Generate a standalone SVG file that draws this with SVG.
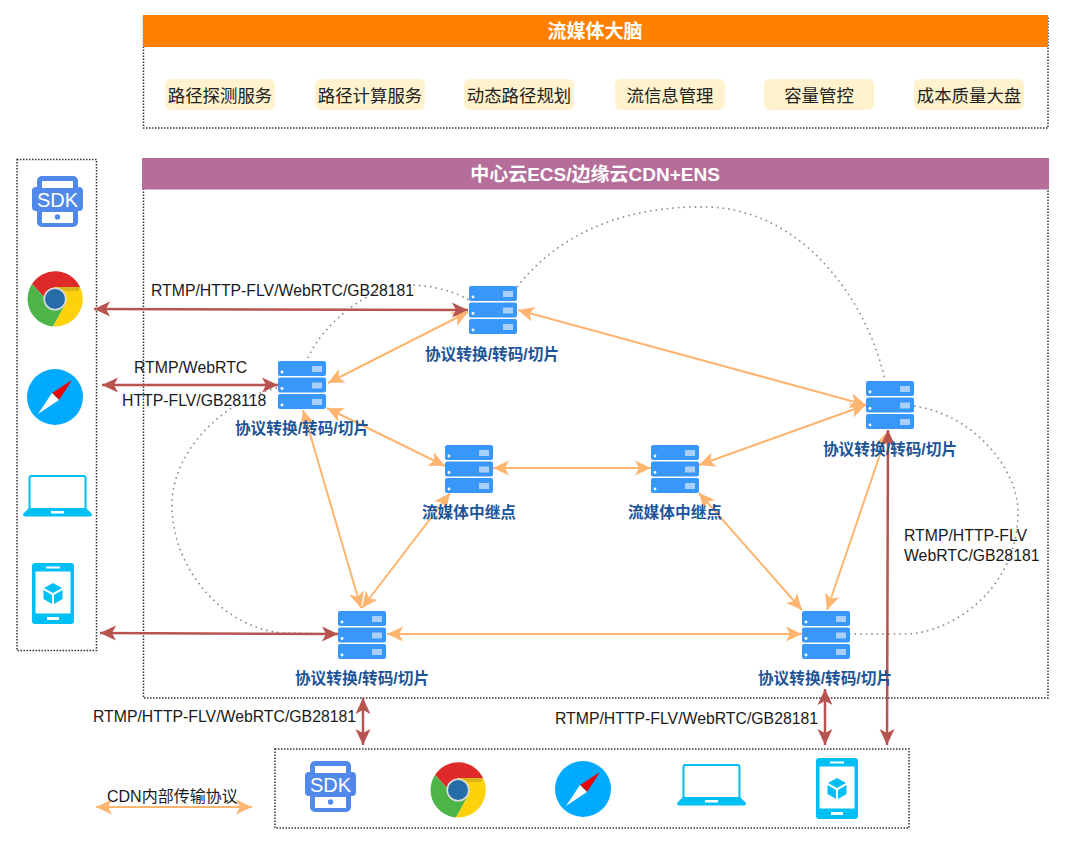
<svg xmlns="http://www.w3.org/2000/svg" width="1080" height="857" viewBox="0 0 1080 857">
<style>
text{font-family:"Liberation Sans","Noto Sans CJK SC",sans-serif}
.panel{fill:none;stroke:#333;stroke-width:1.5;stroke-dasharray:1.5 1.5}
.pill{fill:#fff2cc}
.pt{font-size:17.4px;fill:#222;text-anchor:middle}
.hd{font-size:19px;font-weight:bold;fill:#fff;text-anchor:middle}
.lb{font-size:15.7px;font-weight:bold;fill:#1c5497;text-anchor:middle}
.pr{font-size:15.8px;fill:#1a1a1a}
.sd{font-size:20px;fill:#fff;text-anchor:middle}
.o{fill:none;stroke:#ffb570;stroke-width:2;marker-start:url(#ao);marker-end:url(#ao)}
.r{fill:none;stroke:#b85450;stroke-width:2.5;marker-start:url(#ar);marker-end:url(#ar)}
.d{fill:none;stroke:#8a8a8a;stroke-width:1.6;stroke-dasharray:1.6 4}
</style>
<defs>
<marker id="ao" markerUnits="userSpaceOnUse" markerWidth="17" markerHeight="16" refX="16" refY="8" orient="auto-start-reverse"><path d="M16,8 L0,0.5 L4,8 L0,15.5Z" fill="#ffb570"/></marker>
<marker id="ar" markerUnits="userSpaceOnUse" markerWidth="17" markerHeight="16" refX="16" refY="8" orient="auto-start-reverse"><path d="M16,8 L0,0.5 L4,8 L0,15.5Z" fill="#b85450"/></marker>
<symbol id="srv" width="48" height="48" viewBox="0 0 48 48" overflow="visible">
<g fill="#3897fb"><rect width="48" height="15" rx="2"/><rect y="16.500" width="48" height="15" rx="2"/><rect y="33" width="48" height="15" rx="2"/></g>
<g fill="#fff"><circle cx="4" cy="11" r="1.400"/><circle cx="4" cy="27.500" r="1.400"/><circle cx="4" cy="44" r="1.400"/></g>
<g fill="#a9d0fb"><rect x="34" y="5" width="10" height="6"/><rect x="34" y="21.500" width="10" height="6"/><rect x="34" y="38" width="10" height="6"/></g>
</symbol>
<symbol id="sdk" width="52" height="52" viewBox="0 0 52 52" overflow="visible">
<rect x="5" y="0" width="41" height="51" rx="5" fill="#5089e9"/>
<rect x="0" y="11" width="51" height="24" rx="4" fill="#5089e9"/>
<rect x="10" y="5" width="31" height="7" fill="#fff"/>
<rect x="10" y="36" width="31" height="11" fill="#fff"/>
<circle cx="25.500" cy="41" r="2.700" fill="#5089e9"/>
</symbol>
<symbol id="chrome" width="56" height="56" viewBox="-28 -28 56 56" overflow="visible">
<path d="M-23,-15 A27.500,27.500 0 0 1 25,-12 L0,-12 L-11,-2Z" fill="#e02a2a"/>
<path d="M-23,-15 A27.500,27.500 0 0 0 -2,27.400 L10,6 L-11,-2Z" fill="#4db548"/>
<path d="M25,-12 A27.500,27.500 0 0 1 -2,27.400 L10,6 L0,-12Z" fill="#fdd20a"/>
<path d="M2,-12 L25,-12 L23,-8 L10,-8Z" fill="#d8b41a"/>
<circle r="11.600" fill="#d8dde0"/><circle r="10" fill="#266ca8"/>
</symbol>
<symbol id="safari" width="56" height="56" viewBox="-28 -28 56 56" overflow="visible">
<circle r="28" fill="#00aaff"/>
<path d="M17,-17 L-3,-4 L4,3Z" fill="#f00000"/><path d="M-17,17 L-3,-4 L4,3Z" fill="#fff"/>
</symbol>
<symbol id="laptop" width="69" height="42" viewBox="0 0 69 42" overflow="visible">
<rect x="6.500" y="1" width="56" height="35" rx="2" fill="#fff" stroke="#00bff5" stroke-width="2"/>
<path d="M6,33 L63,33 L69,39 Q69,41.500 67,41.500 L2,41.500 Q0,41.500 0,39Z" fill="#00bff5"/>
<rect x="28" y="36" width="13" height="2.500" fill="#fff"/>
</symbol>
<symbol id="tablet" width="42" height="61" viewBox="0 0 42 61" overflow="visible">
<rect width="42" height="61" rx="3" fill="#00bff5"/>
<rect x="3.500" y="8.500" width="35" height="42" fill="#fff"/>
<rect x="14" y="3.500" width="14" height="2" fill="#fff"/><rect x="15" y="54" width="12" height="3" fill="#fff"/>
<path d="M21,20 L30,25 L21,30 L12,25Z M11.500,27 L20,32 L20,41 L11.500,36Z M30.500,27 L22,32 L22,41 L30.500,36Z" fill="#00bff5"/>
</symbol>
</defs>
<rect width="1080" height="857" fill="#fff"/>

<g id="brain">
<rect class="panel" x="143.500" y="16" width="904.500" height="112"/>
<rect x="143" y="15" width="905" height="32" fill="#ff8000"/>
<text class="hd" x="595" y="38">流媒体大脑</text>
</g>
<g id="svc1"><rect class="pill" x="165" y="79" width="110" height="31" rx="6"/><text class="pt" x="220" y="101.500">路径探测服务</text></g>
<g id="svc2"><rect class="pill" x="315" y="79" width="110" height="31" rx="6"/><text class="pt" x="370" y="101.500">路径计算服务</text></g>
<g id="svc3"><rect class="pill" x="464" y="79" width="110" height="31" rx="6"/><text class="pt" x="519" y="101.500">动态路径规划</text></g>
<g id="svc4"><rect class="pill" x="615" y="79" width="110" height="31" rx="6"/><text class="pt" x="670" y="101.500">流信息管理</text></g>
<g id="svc5"><rect class="pill" x="764" y="79" width="110" height="31" rx="6"/><text class="pt" x="819" y="101.500">容量管控</text></g>
<g id="svc6"><rect class="pill" x="914" y="79" width="110" height="31" rx="6"/><text class="pt" x="969" y="101.500">成本质量大盘</text></g>

<g id="cloud">
<rect class="panel" x="143.500" y="159" width="904.500" height="539"/>
<rect x="142" y="158" width="907" height="31.500" fill="#b46e99"/>
<text class="hd" x="595" y="181">中心云ECS/边缘云CDN+ENS</text>
</g>

<g id="clients-left">
<rect class="panel" x="17" y="159.500" width="79.500" height="491"/>
<use href="#sdk" x="32" y="176"/><text class="sd" x="57.500" y="207">SDK</text>
<use href="#chrome" x="27" y="271"/>
<use href="#safari" x="27" y="369"/>
<use href="#laptop" x="23" y="475"/>
<use href="#tablet" x="32" y="563"/>
</g>
<g id="clients-bottom">
<rect class="panel" x="275" y="749" width="634" height="79"/>
<use href="#sdk" x="305" y="761"/><text class="sd" x="330.500" y="792">SDK</text>
<use href="#chrome" x="430" y="762"/>
<use href="#safari" x="555" y="761"/>
<use href="#laptop" x="677" y="764"/>
<use href="#tablet" x="816" y="758"/>
</g>

<g id="connectors">
<path class="d" d="M308,358 C322,325 370,283 413,285 C435,286 455,292 469,300"/>
<path class="d" d="M517,287 C565,225 640,205 710,207 C810,212 870,310 885,380"/>
<path class="d" d="M914,406 C975,415 1018,470 1018,512 C1018,590 950,634 905,634 L850,634"/>
<path class="d" d="M277,388 C225,400 172,450 172,505 C172,570 225,630 285,633 L338,634"/>
<path class="o" d="M328,383 L468,312"/>
<path class="o" d="M327,408 L445,466"/>
<path class="o" d="M303,410 L361,608"/>
<path class="o" d="M450,493 L362,608"/>
<path class="o" d="M518,310 L866,405"/>
<path class="o" d="M493,468 L651,468"/>
<path class="o" d="M699,465 L866,405"/>
<path class="o" d="M699,493 L802,610"/>
<path class="o" d="M888,431 L827,610"/>
<path class="o" d="M387,634 L802,634"/>
<path class="o" d="M96,807 L252,807"/>
<path class="r" d="M94,309 L468,310"/>
<path class="r" d="M102,385 L278,385"/>
<path class="r" d="M100,633 L338,634"/>
<path class="r" d="M363,698 L363,745"/>
<path class="r" d="M825,689 L825,745"/>
<path class="r" d="M888,430 L887,745"/>
</g>

<g id="srvA"><use href="#srv" x="278" y="361"/><text class="lb" x="302" y="434">协议转换/转码/切片</text></g>
<g id="srvB"><use href="#srv" x="469" y="286"/><text class="lb" x="492" y="360">协议转换/转码/切片</text></g>
<g id="srvC"><use href="#srv" x="866" y="381"/><text class="lb" x="890" y="455">协议转换/转码/切片</text></g>
<g id="srvD"><use href="#srv" x="338" y="611"/><text class="lb" x="362" y="684">协议转换/转码/切片</text></g>
<g id="srvE"><use href="#srv" x="802" y="611"/><text class="lb" x="825" y="684">协议转换/转码/切片</text></g>
<g id="relay1"><use href="#srv" x="445" y="445"/><text class="lb" x="469" y="518">流媒体中继点</text></g>
<g id="relay2"><use href="#srv" x="651" y="445"/><text class="lb" x="675" y="518">流媒体中继点</text></g>

<g id="labels">
<text class="pr" x="151" y="296">RTMP/HTTP-FLV/WebRTC/GB28181</text>
<text class="pr" x="134" y="373">RTMP/WebRTC</text>
<text class="pr" x="122" y="406">HTTP-FLV/GB28118</text>
<text class="pr" x="93" y="722">RTMP/HTTP-FLV/WebRTC/GB28181</text>
<text class="pr" x="555" y="724">RTMP/HTTP-FLV/WebRTC/GB28181</text>
<text class="pr" x="904" y="541">RTMP/HTTP-FLV</text>
<text class="pr" x="904" y="561">WebRTC/GB28181</text>
<text class="pr" x="107" y="802" style="font-size:16px">CDN内部传输协议</text>
</g>
</svg>
